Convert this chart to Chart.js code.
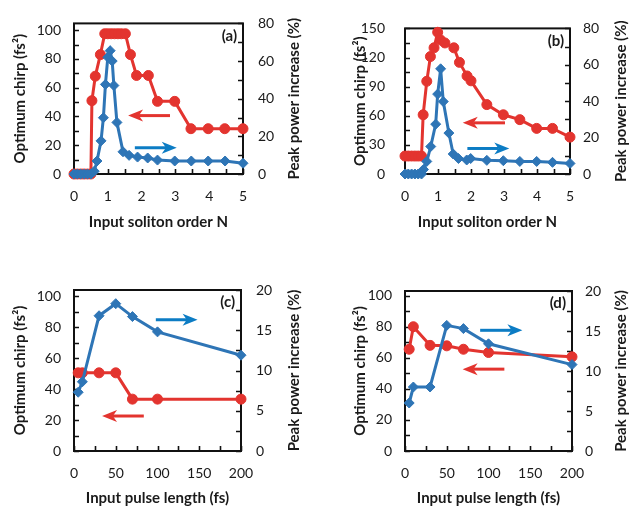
<!DOCTYPE html>
<html><head><meta charset="utf-8">
<script src="https://cdn.jsdelivr.net/npm/chart.js@4.4.1/dist/chart.umd.min.js"></script>
<style>
html,body{margin:0;padding:0;background:#fff;}
#wrap{position:relative;width:629px;height:508px;overflow:hidden;}
canvas{position:absolute;}
</style></head><body>
<div id="wrap">
<canvas id="ca" width="314" height="254" style="left:0;top:0"></canvas>
<canvas id="cb" width="315" height="254" style="left:314px;top:0"></canvas>
<canvas id="cc" width="314" height="254" style="left:0;top:254px"></canvas>
<canvas id="cd" width="315" height="254" style="left:314px;top:254px"></canvas>
</div>
<script>
// ---------------- DATA ----------------
// (a) optimum chirp (fs^2) and peak power increase (%) vs soliton order N
const aChirpN = [0,0.1,0.2,0.3,0.4,0.5,0.53,0.63,0.78,0.91,1.0,1.1,1.2,1.3,1.4,1.52,1.67,1.85,2.2,2.47,2.98,3.46,3.97,4.46,5.0];
const aChirp  = [0,0,0,0,0,0,51,68,83,97.5,97.5,97.5,97.5,97.5,97.5,97.5,83,68.5,68.5,50.5,50.5,31.5,31.5,31.5,31.5];
const aPowerN = [0,0.1,0.2,0.3,0.4,0.5,0.6,0.68,0.8,0.87,0.93,1.0,1.07,1.13,1.18,1.27,1.45,1.63,1.88,2.18,2.47,2.98,3.47,3.97,4.47,5.0];
const aPower  = [0,0,0,0,0,0,1.5,6.9,17.6,29.9,47.6,62,65.5,60,47,27.4,11.8,9.9,9,8.5,7.4,6.9,6.9,6.9,6.9,5.7];
// (b)
const bChirpN = [0,0.1,0.2,0.3,0.4,0.5,0.55,0.66,0.77,0.88,0.99,1.08,1.21,1.48,1.65,1.88,2.0,2.48,2.98,3.48,3.99,4.47,5.0];
const bChirp  = [18.5,18.5,18.5,18.5,18.5,18.5,61,95.5,121,130,146,138,135,130,115,101,96,71.5,61,56,47,47,38];
const bPowerN = [0,0.1,0.2,0.3,0.4,0.5,0.56,0.66,0.78,0.93,0.99,1.08,1.16,1.33,1.46,1.62,1.87,1.99,2.48,2.98,3.48,3.99,4.47,5.0];
const bPower  = [0,0,0,0,0,0,2.5,6.9,15.1,27.4,43.9,57.8,39.8,22.5,11,8.5,7.7,8.5,7.5,7.3,6.9,6.9,6.4,5.8];
// (c) vs input pulse length (fs)
const cLen   = [5,10,30,50,70,100,200];
const cChirp = [50.5,50.5,50.5,50.5,33.5,33.5,33.5];
const cPower = [7.3,8.6,16.8,18.3,16.7,14.8,11.9];
// (d)
const dLen   = [5,10,30,50,70,100,200];
const dChirp = [65.5,80,68,67.7,65.5,63.4,60.6];
const dPower = [6.0,8.0,8.0,15.7,15.3,13.4,10.8];
// annotation arrows: [tailX, tipX, y on left axis]
const aRedArrow = [2.84, 1.6, 40.6],  aBlueArrow = [1.8, 3.04, 18.3];
const bRedArrow = [3.03, 1.75, 52.7], bBlueArrow = [1.89, 3.16, 26.3];
const cRedArrow = [83.6, 33.6, 22.6], cBlueArrow = [98, 148, 84.8];
const dRedArrow = [119, 69, 52.7],    dBlueArrow = [90, 140.6, 77.7];
// axis text
const yLeftTitle = 'Optimum chirp (fs\u00B2)';
const yRightTitle = 'Peak power increase (%)';
const xTitleN = 'Input soliton order N';
const xTitleT = 'Input pulse length (fs)';

// ---------------- STYLE ----------------
const RED = '#E3342F', BLUE = '#2E75B6', ARROW_BLUE = '#0C7CC4';
const FONT = 'Lato, "Open Sans", sans-serif';
const TXT = '#1a1a1a';

function pts(xs, ys){ return xs.map((x,i)=>({x:x, y:ys[i]})); }
function isMult(v, e){ const r = v/e; return Math.abs(r-Math.round(r)) < 1e-6; }

function drawArrow(ctx, x0, x1, y, color){
  const dir = Math.sign(x1-x0), L = 15, H = 6;
  ctx.save();
  ctx.strokeStyle = color; ctx.fillStyle = color; ctx.lineWidth = 3;
  ctx.beginPath(); ctx.moveTo(x0, y); ctx.lineTo(x1 - dir*L*0.7, y); ctx.stroke();
  ctx.beginPath();
  ctx.moveTo(x1, y);
  ctx.lineTo(x1 - dir*L, y - H);
  ctx.lineTo(x1 - dir*L*0.72, y);
  ctx.lineTo(x1 - dir*L, y + H);
  ctx.closePath(); ctx.fill();
  ctx.restore();
}

const panelPlugin = {
  id: 'panel',
  beforeDatasetsDraw(chart){
    const ctx = chart.ctx, ca = chart.chartArea;
    const sx = chart.scales.x, sl = chart.scales.yL, sr = chart.scales.yR;
    ctx.save();
    ctx.strokeStyle = '#111'; ctx.lineWidth = 1.6;
    ctx.beginPath();
    sx.ticks.forEach(t=>{ const p = Math.round(sx.getPixelForValue(t.value))+0.5; ctx.moveTo(p, ca.bottom); ctx.lineTo(p, ca.bottom-5); });
    sl.ticks.forEach(t=>{ const p = Math.round(sl.getPixelForValue(t.value))+0.5; ctx.moveTo(ca.left, p); ctx.lineTo(ca.left+5, p); });
    sr.ticks.forEach(t=>{ const p = Math.round(sr.getPixelForValue(t.value))+0.5; ctx.moveTo(ca.right, p); ctx.lineTo(ca.right-5, p); });
    ctx.stroke();
    ctx.lineWidth = 2;
    ctx.strokeRect(ca.left, ca.top, ca.right-ca.left, ca.bottom-ca.top);
    ctx.restore();
  },
  afterDatasetsDraw(chart, args, o){
    const ctx = chart.ctx, ca = chart.chartArea;
    const sx = chart.scales.x, sl = chart.scales.yL;
    const ra = o.redArrow, ba = o.blueArrow;
    drawArrow(ctx, sx.getPixelForValue(ra[0]), sx.getPixelForValue(ra[1]), sl.getPixelForValue(ra[2]), RED);
    drawArrow(ctx, sx.getPixelForValue(ba[0]), sx.getPixelForValue(ba[1]), sl.getPixelForValue(ba[2]), ARROW_BLUE);
    ctx.save();
    ctx.fillStyle = TXT;
    ctx.font = 'bold 15px ' + FONT;
    ctx.textAlign = 'right'; ctx.textBaseline = 'middle';
    ctx.fillText(o.label, ca.right - 6, ca.top + 12.5);
    // axis titles
    ctx.font = 'bold 15px ' + FONT;
    ctx.textAlign = 'center'; ctx.textBaseline = 'alphabetic';
    ctx.fillText(o.xTitle, (ca.left+ca.right)/2, o.xTitleY);
    const cy = (ca.top+ca.bottom)/2;
    ctx.save(); ctx.translate(o.lTitleX, cy); ctx.rotate(-Math.PI/2); ctx.fillText(yLeftTitle, 0, 0); ctx.restore();
    ctx.save(); ctx.translate(o.rTitleX, cy); ctx.rotate(-Math.PI/2); ctx.fillText(yRightTitle, 0, 0); ctx.restore();
    ctx.restore();
  }
};

function makeChart(id, cfg){
  const tickFont = {family: FONT, size: 14};
  new Chart(document.getElementById(id), {
    type: 'line',
    data: { datasets: [
      { data: pts(cfg.px, cfg.py), yAxisID:'yR', borderColor: BLUE, backgroundColor: BLUE,
        borderWidth: 3, pointStyle:'rectRot', pointRadius: 5, pointBorderWidth: 1, tension: 0, clip: false },
      { data: pts(cfg.cx, cfg.cy), yAxisID:'yL', borderColor: RED, backgroundColor: RED,
        borderWidth: 3, pointStyle:'circle', pointRadius: 5, pointBorderWidth: 1, tension: 0, clip: false }
    ]},
    options: {
      responsive: false, animation: false, devicePixelRatio: 1,
      events: [],
      layout: { padding: { top: cfg.top, left: 0, right: 0, bottom: 0 } },
      plugins: { legend:{display:false}, tooltip:{enabled:false}, panel: cfg.panel },
      scales: {
        x: { type:'linear', min: cfg.xMin, max: cfg.xMax,
          grid:{display:false, drawTicks:false}, border:{display:false},
          ticks:{ stepSize: cfg.xStep, autoSkip:false, includeBounds:false, maxRotation:0, padding: 14, color: TXT, font: tickFont,
            callback:(v)=> isMult(v, cfg.xEvery) ? String(v) : '' },
          afterFit:(s)=>{ s.height = cfg.hx; } },
        yL: { type:'linear', position:'left', min:0, max: cfg.lMax,
          grid:{display:false, drawTicks:false}, border:{display:false},
          ticks:{ stepSize: cfg.lStep, autoSkip:false, includeBounds:false, padding: cfg.lPad, color: TXT, font: tickFont,
            callback:(v)=> isMult(v, cfg.lEvery) ? String(v) : '' },
          afterFit:(s)=>{ s.width = cfg.wl; } },
        yR: { type:'linear', position:'right', min:0, max: cfg.rMax,
          grid:{display:false, drawTicks:false}, border:{display:false},
          ticks:{ stepSize: cfg.rStep, autoSkip:false, includeBounds:false, padding: cfg.rPad, color: TXT, font: tickFont,
            callback:(v)=> isMult(v, cfg.rEvery) ? String(v) : '' },
          afterFit:(s)=>{ s.width = cfg.wr; } }
      }
    },
    plugins: [panelPlugin]
  });
}

makeChart('ca', { cx:aChirpN, cy:aChirp, px:aPowerN, py:aPower,
  xMin:0, xMax:5, xStep:0.5, xEvery:1, lMax:104.7, lStep:10, lEvery:20, rMax:80, rStep:10, rEvery:20,
  top:12, hx:80, wl:74, wr:71, lPad:13, rPad:15,
  panel:{ label:'(a)', redArrow:aRedArrow, blueArrow:aBlueArrow, xTitle:xTitleN, xTitleY:227, lTitleX:25, rTitleX:299 } });
makeChart('cb', { cx:bChirpN, cy:bChirp, px:bPowerN, py:bPower,
  xMin:0, xMax:5, xStep:0.5, xEvery:1, lMax:150, lStep:15, lEvery:30, rMax:80, rStep:10, rEvery:20,
  top:12, hx:80, wl:91, wr:59, lPad:20, rPad:13,
  panel:{ label:'(b)', redArrow:bRedArrow, blueArrow:bBlueArrow, xTitle:xTitleN, xTitleY:227, lTitleX:51, rTitleX:312 } });
makeChart('cc', { cx:cLen, cy:cChirp, px:cLen, py:cPower,
  xMin:0, xMax:200, xStep:25, xEvery:50, lMax:104, lStep:10, lEvery:20, rMax:20, rStep:2.5, rEvery:5,
  top:36, hx:57, wl:74, wr:73, lPad:13, rPad:15,
  panel:{ label:'(c)', redArrow:cRedArrow, blueArrow:cBlueArrow, xTitle:xTitleT, xTitleY:249, lTitleX:25, rTitleX:299 } });
makeChart('cd', { cx:dLen, cy:dChirp, px:dLen, py:dPower,
  xMin:0, xMax:200, xStep:25, xEvery:50, lMax:103, lStep:10, lEvery:20, rMax:20, rStep:2.5, rEvery:5,
  top:37, hx:57, wl:91, wr:57, lPad:13, rPad:13,
  panel:{ label:'(d)', redArrow:dRedArrow, blueArrow:dBlueArrow, xTitle:xTitleT, xTitleY:249, lTitleX:51, rTitleX:312 } });
</script>
</body></html>
